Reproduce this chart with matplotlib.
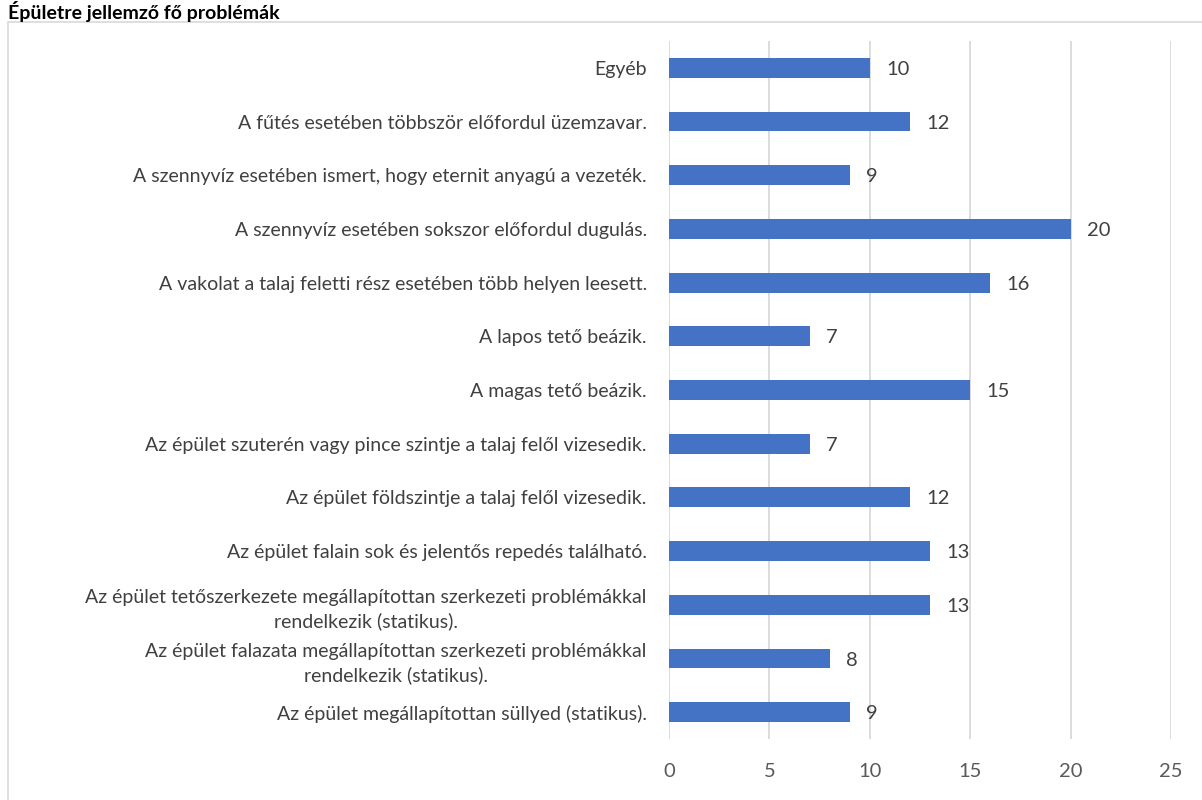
import matplotlib.pyplot as plt
import numpy as np
from matplotlib.patches import Rectangle

plt.switch_backend("Agg")

title = "Épületre jellemző fő problémák"
categories = [
    "Egyéb",
    "A fűtés esetében többször előfordul üzemzavar.",
    "A szennyvíz esetében ismert, hogy eternit anyagú a vezeték.",
    "A szennyvíz esetében sokszor előfordul dugulás.",
    "A vakolat a talaj feletti rész esetében több helyen leesett.",
    "A lapos tető beázik.",
    "A magas tető beázik.",
    "Az épület szuterén vagy pince szintje a talaj felől vizesedik.",
    "Az épület földszintje a talaj felől vizesedik.",
    "Az épület falain sok és jelentős repedés található.",
    "Az épület tetőszerkezete megállapítottan szerkezeti problémákkal\nrendelkezik (statikus).",
    "Az épület falazata megállapítottan szerkezeti problémákkal\nrendelkezik (statikus).",
    "Az épület megállapítottan süllyed (statikus).",
]
values = [10, 12, 9, 20, 16, 7, 15, 7, 12, 13, 13, 8, 9]
x_ticks = [0, 5, 10, 15, 20, 25]

plt.rcParams["font.family"] = ["Lato", "DejaVu Sans"]

fig = plt.figure(figsize=(12.02, 8.0), dpi=100)
ax = fig.add_axes([669 / 1202, 1 - 739 / 800, (1171 - 669) / 1202, (739 - 41) / 800])

# chart frame running off the right and bottom edges, like the screenshot
fig.patches.append(Rectangle((8 / 1202, -0.05), 1.1, 1 - 22 / 800 + 0.05,
                             transform=fig.transFigure, fill=False,
                             edgecolor="#D9D9D9", linewidth=1.2))
fig.text(8 / 1202, 1 - 1 / 800, title, fontsize=14, fontweight="bold",
         color="black", ha="left", va="top")

y = np.arange(len(categories))
ax.barh(y, values, height=0.37, color="#4472C4", zorder=3)
for yi, v in zip(y, values):
    ax.text(v + 0.8, yi + 0.03, str(v), va="center", ha="left", fontsize=14.5,
            color="#404040")

ax.set_ylim(len(categories) - 0.5, -0.5)
ax.set_xlim(0, 25)
ax.set_xticks(x_ticks)
ax.set_yticks(y, categories, multialignment="center", linespacing=1.45)
ax.tick_params(axis="y", length=0, pad=16, labelsize=14, labelcolor="#404040")
ax.tick_params(axis="x", length=0, pad=17, labelsize=14.5, labelcolor="#595959")
ax.grid(axis="x", color="#D9D9D9", linewidth=1.3, zorder=0)
for s in ax.spines.values():
    s.set_visible(False)

fig.savefig("out.png", dpi=100)
